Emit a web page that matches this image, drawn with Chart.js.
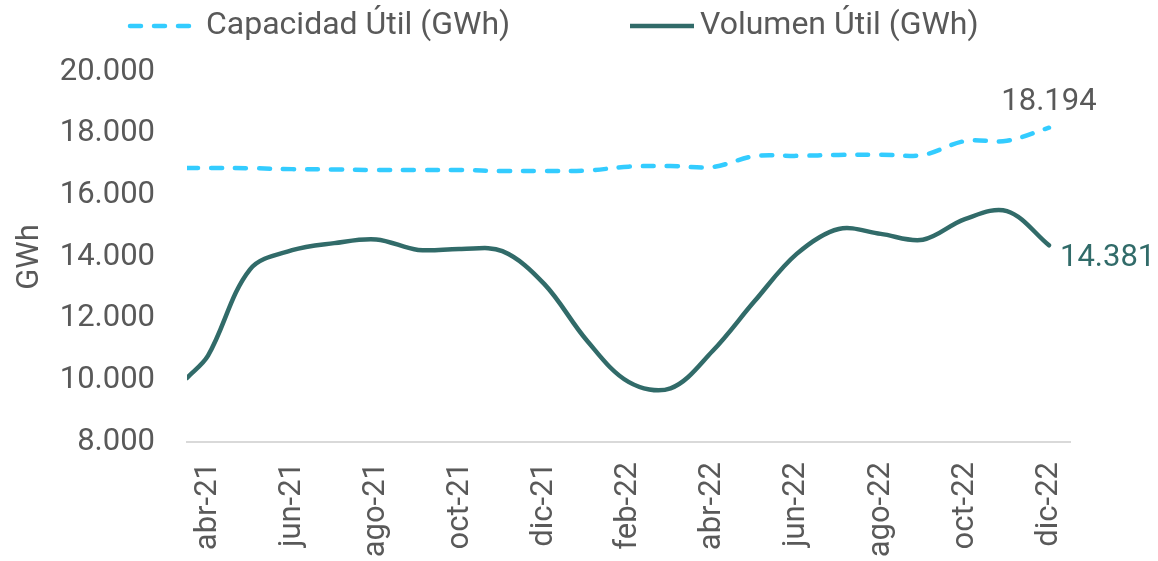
<!DOCTYPE html>
<html>
<head>
<meta charset="utf-8">
<title>Capacidad y Volumen Útil</title>
<script src="https://cdn.jsdelivr.net/npm/chart.js@4.4.1/dist/chart.umd.min.js"></script>
<style>
  html, body { margin: 0; padding: 0; background: #fff; }
</style>
</head>
<body>
<canvas id="chart" width="1158" height="561"></canvas>
<script>
// x position of each reading, in months from abr-21 (first reading sits half a month earlier)
const monthPos = [-0.5, 0, 1, 2, 3, 4, 5, 6, 7, 8, 9, 10, 11, 12, 13, 14, 15, 16, 17, 18, 19, 20];
const capacidad = [16890, 16890, 16880, 16850, 16840, 16820, 16820, 16820, 16790, 16790, 16800,
                   16930, 16950, 16920, 17270, 17280, 17310, 17320, 17310, 17760, 17770, 18194];
const volumen = [10080, 10800, 13600, 14220, 14450, 14570, 14230, 14260, 14190, 13120, 11310,
                 9950, 9740, 10950, 12570, 14100, 14910, 14750, 14560, 15230, 15490, 14381];

const tickMonths = [0, 2, 4, 6, 8, 10, 12, 14, 16, 18, 20];
const tickLabels = ['abr-21', 'jun-21', 'ago-21', 'oct-21', 'dic-21', 'feb-22',
                    'abr-22', 'jun-22', 'ago-22', 'oct-22', 'dic-22'];
const seriesNames = ['Capacidad Útil (GWh)', 'Volumen Útil (GWh)'];
const endLabels = ['18.194', '14.381'];

const colCap = '#33CCFF';
const colVol = '#316B69';
const grey = '#595959';
const FONT = 'Roboto, "Noto Sans", sans-serif';

function fmt(v) {
    return String(v).replace(/\B(?=(\d{3})+(?!\d))/g, '.');
}

// legend drawn by hand so the line samples look like the original
const topLegend = {
    id: 'topLegend',
    afterDraw(chart) {
        const ctx = chart.ctx;
        const y = 26;
        ctx.save();
        ctx.lineWidth = 4.5;
        ctx.lineCap = 'round';

        ctx.strokeStyle = colCap;
        ctx.setLineDash([11, 13]);
        ctx.beginPath(); ctx.moveTo(130, y); ctx.lineTo(192, y); ctx.stroke();

        ctx.strokeStyle = colVol;
        ctx.setLineDash([]);
        ctx.lineCap = 'butt';
        ctx.beginPath(); ctx.moveTo(630, y); ctx.lineTo(694, y); ctx.stroke();

        ctx.font = '32px ' + FONT;
        ctx.fillStyle = grey;
        ctx.textBaseline = 'middle';
        ctx.textAlign = 'left';
        ctx.fillText(seriesNames[0], 206, y);
        ctx.fillText(seriesNames[1], 700, y);
        ctx.restore();
    }
};

// value labels at the last point of each line
const endLabelPlugin = {
    id: 'endLabels',
    afterDatasetsDraw(chart) {
        const ctx = chart.ctx;
        ctx.save();
        ctx.font = '31px ' + FONT;
        ctx.textBaseline = 'middle';
        const capPts = chart.getDatasetMeta(0).data;
        const p0 = capPts[capPts.length - 1];
        ctx.fillStyle = grey;
        ctx.textAlign = 'center';
        ctx.fillText(endLabels[0], p0.x, p0.y - 25);

        const volPts = chart.getDatasetMeta(1).data;
        const p1 = volPts[volPts.length - 1];
        ctx.fillStyle = colVol;
        ctx.textAlign = 'left';
        ctx.fillText(endLabels[1], p1.x + 11, p1.y + 13);
        ctx.restore();
    }
};

new Chart(document.getElementById('chart'), {
    type: 'line',
    data: {
        datasets: [{
            label: seriesNames[0],
            data: monthPos.map((m, i) => ({x: m, y: capacidad[i]})),
            borderColor: colCap,
            borderWidth: 4.5,
            borderDash: [11, 13],
            borderCapStyle: 'round',
            pointRadius: 0,
            tension: 0.35,
            fill: false
        }, {
            label: seriesNames[1],
            data: monthPos.map((m, i) => ({x: m, y: volumen[i]})),
            borderColor: colVol,
            borderWidth: 4.5,
            borderCapStyle: 'round',
            pointRadius: 0,
            tension: 0.35,
            fill: false
        }]
    },
    options: {
        responsive: false,
        animation: false,
        devicePixelRatio: 1,
        layout: { padding: { top: 72, right: 88, bottom: 0, left: 0 } },
        plugins: {
            legend: { display: false },
            tooltip: { enabled: false }
        },
        scales: {
            x: {
                type: 'linear',
                min: -0.5,
                max: 20.5,
                afterBuildTicks: s => { s.ticks = tickMonths.map(v => ({value: v})); },
                afterFit: s => { s.height = 119; },
                grid: { display: false, drawTicks: false },
                border: { display: true, color: '#D9D9D9', width: 2 },
                ticks: {
                    autoSkip: false,
                    minRotation: 90,
                    maxRotation: 90,
                    padding: 20,
                    color: grey,
                    font: { family: FONT, size: 31 },
                    callback: v => tickLabels[tickMonths.indexOf(v)]
                }
            },
            y: {
                min: 8000,
                max: 20000,
                afterFit: s => { s.width = 187; },
                grid: { display: false, drawTicks: false },
                border: { display: false },
                ticks: {
                    stepSize: 2000,
                    padding: 32,
                    color: grey,
                    font: { family: FONT, size: 31 },
                    callback: v => fmt(v)
                },
                title: {
                    display: true,
                    text: 'GWh',
                    color: grey,
                    font: { family: FONT, size: 31 },
                    padding: { top: 12, bottom: 0 }
                }
            }
        }
    },
    plugins: [topLegend, endLabelPlugin]
});
</script>
</body>
</html>
